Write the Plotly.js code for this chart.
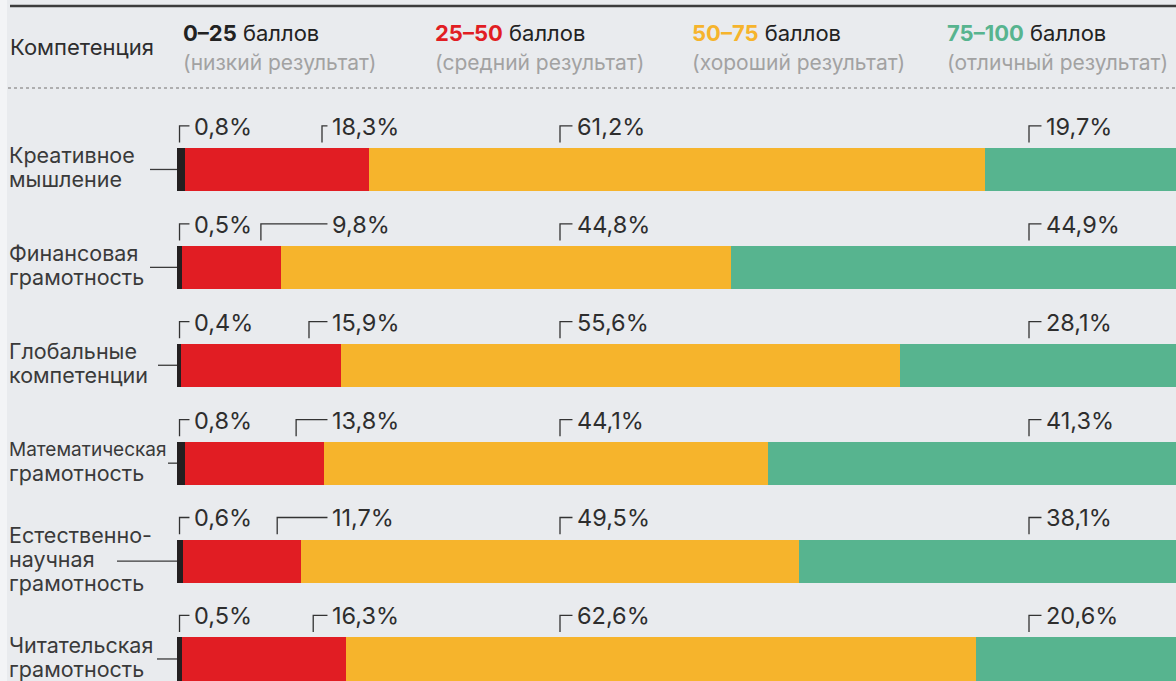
<!DOCTYPE html>
<html>
<head>
<meta charset="utf-8">
<script src="https://cdn.plot.ly/plotly-3.0.1.min.js"></script>
<style>
  html, body { margin: 0; padding: 0; background: #e9ebee; }
  #chart { width: 1176px; height: 681px; }
</style>
</head>
<body>
<div id="chart"></div>
<script>
// ---- data ----
const categories = ['Креативное<br>мышление', 'Финансовая<br>грамотность', 'Глобальные<br>компетенции',
                    'Математическая<br>грамотность', 'Естественно-<br>научная<br>грамотность', 'Читательская<br>грамотность'];
const lowScores = [0.8, 0.5, 0.4, 0.8, 0.6, 0.5];          // 0–25
const midScores = [18.3, 9.8, 15.9, 13.8, 11.7, 16.3];     // 25–50
const goodScores = [61.2, 44.8, 55.6, 44.1, 49.5, 62.6];   // 50–75
const excellentScores = [19.7, 44.9, 28.1, 41.3, 38.1, 20.6]; // 75–100
const bandRanges = ['0–25', '25–50', '50–75', '75–100'];
const bandNotes = ['(низкий результат)', '(средний результат)', '(хороший результат)', '(отличный результат)'];
const columnTitle = 'Компетенция';
const unitWord = 'баллов';

// ---- styling / layout constants ----
const W = 1176, H = 681;
const plotLeft = 177;
const xMax = 99.3;
const colors = ['#231f20', '#e11d23', '#f6b42c', '#57b48f'];
const rangeColors = ['#222222', '#e11d23', '#f6b42c', '#57b48f'];
const textColor = '#2e2e2e';
const FONT = 'Inter, "Noto Sans", sans-serif';
const px = x => (x - plotLeft) / (W - plotLeft);   // pixel -> paper x
const py = y => 1 - y / H;                          // pixel -> paper y
const pxData = x => (x - plotLeft) / (W - plotLeft) * xMax; // pixel -> data x
const rowPx = 97.9;                                 // pixels per category row

const series = [lowScores, midScores, goodScores, excellentScores];
const yIdx = categories.map((c, i) => i);

const traces = series.map((vals, k) => ({
  type: 'bar', orientation: 'h',
  x: vals, y: yIdx, width: 0.44,
  marker: { color: colors[k], line: { width: 0 } },
  hoverinfo: 'skip', textposition: 'none', showlegend: false
}));

const fmt = v => v.toFixed(1).replace('.', ',') + '%';

const shapes = [];
const annotations = [];

// top rule, dotted separator, left strip
shapes.push({ type: 'rect', xref: 'paper', yref: 'paper', x0: px(0), x1: px(7), y0: 0, y1: 1,
  fillcolor: '#f3f4f6', line: { width: 0 }, layer: 'below' });
shapes.push({ type: 'line', xref: 'paper', yref: 'paper', x0: px(10), x1: px(W), y0: py(6), y1: py(6),
  line: { color: '#3c3c3c', width: 2.5 } });
shapes.push({ type: 'line', xref: 'paper', yref: 'paper', x0: px(8), x1: px(W), y0: py(88), y1: py(88),
  line: { color: '#9a9a9a', width: 1.5, dash: 'dot' } });

// header
annotations.push({ xref: 'paper', yref: 'paper', x: px(8), y: py(47), xanchor: 'left', yanchor: 'middle',
  text: columnTitle, showarrow: false, font: { family: FONT, size: 22, color: textColor } });
const headerX = [181, 433, 690, 945];
bandRanges.forEach((r, k) => {
  annotations.push({ xref: 'paper', yref: 'paper', x: px(headerX[k]), y: py(33), xanchor: 'left', yanchor: 'middle',
    text: '<span style="color:' + rangeColors[k] + '"><b>' + r + '</b></span> ' + unitWord,
    showarrow: false, font: { family: FONT, size: 22, color: '#222' } });
  annotations.push({ xref: 'paper', yref: 'paper', x: px(headerX[k]), y: py(62), xanchor: 'left', yanchor: 'middle',
    text: bandNotes[k], showarrow: false, font: { family: FONT, size: 21, color: '#a2a2a2' } });
});

// category labels (one annotation per line, 24px leading) + connector lines
const connectorStart = [150, 150, 158, 168, 117, 157];
const lineLead = 24;
categories.forEach((c, i) => {
  const lines = c.split('<br>');
  lines.forEach((ln, k) => {
    const off = (k - (lines.length - 1) / 2) * lineLead - 2;
    const size = ln.length > 13 ? 19 : 21.5;   // long word is set tighter, as in the original
    annotations.push({ xref: 'paper', yref: 'y', x: px(7), y: i + off / rowPx, xanchor: 'left', yanchor: 'middle',
      text: ln, showarrow: false, font: { family: FONT, size: size, color: '#3a3a3a' } });
  });
  shapes.push({ type: 'line', xref: 'paper', yref: 'y', x0: px(connectorStart[i]), x1: px(plotLeft), y0: i, y1: i,
    line: { color: '#3a3a3a', width: 1.3 } });
});

// value labels with bracket leaders
const lineY = -0.445, vBottom = -0.275, textY = -0.44;
function bracket(i, bx, tx, value) {
  shapes.push({ type: 'path', xref: 'x', yref: 'y',
    path: `M ${bx} ${i + vBottom} L ${bx} ${i + lineY} L ${tx - 0.25} ${i + lineY}`,
    line: { color: '#333', width: 1.3 } });
  annotations.push({ xref: 'x', yref: 'y', x: tx, y: i + textY, xanchor: 'left', yanchor: 'middle',
    text: fmt(value), showarrow: false, font: { family: FONT, size: 23.5, color: textColor } });
}
categories.forEach((c, i) => {
  const s1 = lowScores[i];
  bracket(i, 0.25, pxData(192), lowScores[i]);
  const bMid = Math.min(s1 + 0.8 * midScores[i], pxData(322));
  bracket(i, bMid, pxData(330), midScores[i]);
  bracket(i, pxData(560), pxData(575), goodScores[i]);
  bracket(i, pxData(1029), pxData(1044), excellentScores[i]);
});

const layout = {
  width: W, height: H,
  margin: { l: plotLeft, r: 0, t: 0, b: 0, pad: 0 },
  paper_bgcolor: '#e9ebee', plot_bgcolor: '#e9ebee',
  barmode: 'stack', bargap: 0,
  xaxis: { range: [0, xMax], visible: false, fixedrange: true },
  yaxis: { range: [5.225, -1.731], visible: false, fixedrange: true },
  shapes, annotations, showlegend: false,
  font: { family: FONT }
};

Plotly.newPlot('chart', traces, layout, { displayModeBar: false, staticPlot: true });
</script>
</body>
</html>
